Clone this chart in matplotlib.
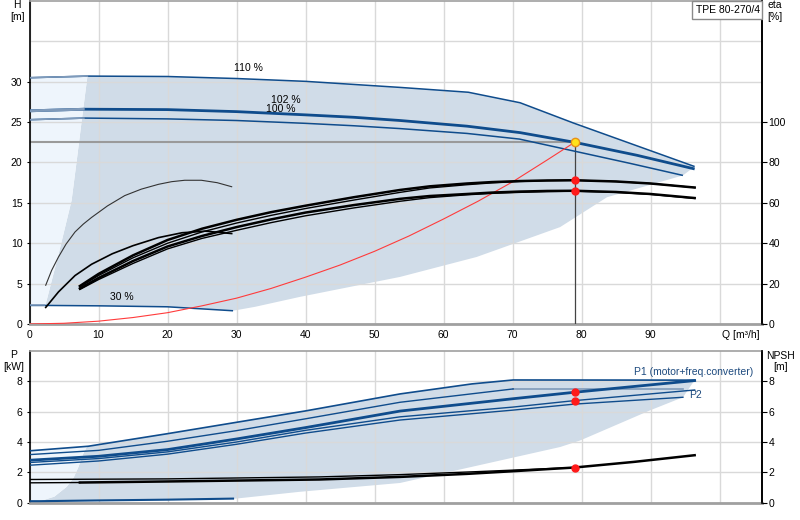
import matplotlib
matplotlib.use('Agg')
import matplotlib.pyplot as plt
from matplotlib.transforms import blended_transform_factory
from matplotlib.patches import Rectangle
import numpy as np

plt.rcParams['font.family'] = ['Liberation Sans', 'DejaVu Sans']
FS = 7.5

# ---------------- data ----------------
# Head curves [m] vs flow Q [m3/h]
q_110 = [0, 8.5, 20, 30, 40, 53.7, 63.6, 71.1, 78.8, 96.4]
h_110 = [30.5, 30.7, 30.65, 30.4, 30.05, 29.3, 28.7, 27.4, 24.9, 19.5]
q_102 = [0, 8, 20, 30, 40, 47, 53.7, 63.4, 71.1, 79, 88, 96.4]
h_102 = [26.4, 26.6, 26.55, 26.3, 25.9, 25.6, 25.2, 24.5, 23.7, 22.5, 20.9, 19.2]
q_100 = [0, 8, 20, 30, 40, 47, 53.7, 63.4, 71, 79, 87, 94.7]
h_100 = [25.3, 25.5, 25.4, 25.2, 24.85, 24.55, 24.2, 23.6, 22.9, 21.4, 19.9, 18.4]
q_30 = [0, 2.3, 10, 20, 29.5]
h_30 = [2.3, 2.3, 2.25, 2.13, 1.64]

# operating region (head) boundary
region_q = [8.4, 20, 30, 40, 53.7, 63.6, 71.1, 78.8, 96.4, 94.7, 83.7, 76.9, 64.8,
            53.7, 39.2, 32.7, 29.5, 20, 10, 2.3, 4.2, 6.1, 6.84, 7.6]
region_h = [30.7, 30.65, 30.4, 30.05, 29.3, 28.7, 27.4, 24.9, 19.5, 18.4, 15.7, 12.0, 8.3,
            5.83, 3.36, 2.13, 1.64, 2.13, 2.25, 2.3, 8.6, 15.3, 20.2, 25.4]
light_q = [0, 2.3, 4.2, 6.1, 6.84, 7.6, 8.4, 0]
light_h = [2.3, 2.3, 8.6, 15.3, 20.2, 25.4, 30.7, 30.5]

# system curve
sys_q = [0, 5, 10, 15, 20, 25, 30, 35, 40, 45, 50, 55, 60, 65, 70, 75, 79]
sys_h = [0, 0.09, 0.35, 0.8, 1.4, 2.25, 3.2, 4.4, 5.8, 7.3, 9.0, 10.9, 13.0, 15.2, 17.6, 20.3, 22.5]

duty_q = 79
duty_h = 22.5

# efficiency curves [%]
q_eta30_pump = [2.35, 3.2, 4.2, 5.3, 6.6, 7.8, 9.0, 11.3, 13.8, 16.2, 18.7, 20.6, 22.5, 24.9, 27.2, 29.3]
eta30_pump = [19.2, 26.5, 33.2, 39.6, 45.6, 49.5, 52.8, 58.5, 63.6, 66.8, 69.2, 70.5, 71.2, 71.2, 70.0, 68.0]
q_eta30_tot = [2.35, 4.2, 6.6, 9.0, 12, 15, 18.7, 22.1, 25.5, 29.3]
eta30_tot = [8.2, 15.9, 24.0, 29.6, 34.8, 38.8, 42.8, 45.2, 46.0, 44.8]

q_eta = [7.3, 10, 15, 20, 25, 30, 35, 40, 47, 53.7, 58, 63.4, 67, 71, 75, 79, 85, 90, 96.4]
eta_u1 = [18.8, 24.8, 34.0, 41.6, 47.2, 51.6, 55.4, 58.6, 62.8, 66.4, 68.2, 69.6, 70.3, 70.8, 71.1, 71.2, 70.6, 69.6, 67.6]
eta_u2 = [18.4, 24.0, 32.8, 40.0, 45.6, 50.0, 53.8, 57.2, 61.4, 65.2, 67.4, 69.0, 69.9, 70.6, 71.0, 71.2, 70.6, 69.6, 67.6]
eta_l1 = [17.6, 22.8, 31.2, 38.4, 43.6, 48.0, 51.8, 55.2, 58.9, 62.0, 63.4, 64.4, 65.1, 65.6, 65.9, 66.0, 65.4, 64.4, 62.4]
eta_l2 = [17.1, 22.0, 30.0, 37.2, 42.4, 46.4, 50.2, 53.6, 57.5, 60.8, 62.6, 64.0, 64.7, 65.2, 65.6, 65.8, 65.2, 64.2, 62.2]
eta_duty = [71.4, 66.0]

# power curves [kW]
qp_110_p1 = [0, 8.5, 20, 30, 40, 53.7, 64.1, 70.1, 96.4]
p_110_p1 = [3.42, 3.72, 4.55, 5.3, 6.05, 7.17, 7.83, 8.09, 8.08]
qp_110_p2 = [0, 10, 20, 30, 40, 53.7, 70.1]
p_110_p2 = [3.17, 3.45, 4.05, 4.75, 5.53, 6.62, 7.5]
qp_110_p2_cap = [70.1, 94.7]
p_110_p2_cap = [7.5, 7.5]
qp_102_p1 = [0, 10, 20, 30, 40, 53.7, 70, 79, 96.4]
p_102_p1 = [2.8, 3.06, 3.5, 4.2, 4.95, 6.04, 6.85, 7.28, 8.05]
qp_102_p2 = [0, 10, 20, 30, 40, 53.7, 70, 79, 96.4]
p_102_p2 = [2.65, 2.91, 3.35, 4.0, 4.77, 5.66, 6.3, 6.73, 7.43]
qp_100_p2 = [0, 10, 20, 30, 40, 53.7, 70, 79, 94.7]
p_100_p2 = [2.47, 2.75, 3.2, 3.85, 4.59, 5.45, 6.1, 6.5, 6.95]
qp_30 = [0, 1.5, 10, 20, 29.5]
p_30 = [0.1, 0.1, 0.15, 0.2, 0.27]
p_duty = [7.28, 6.73]

# power region boundary
pregion_q = [8.3, 20, 30, 40, 53.7, 64.1, 70.1, 96.4, 94.7, 89.9, 79.8, 76.9, 53.7, 39.2,
             29.5, 20, 10, 1.5, 3.6, 5.4, 6.4, 7.1, 7.8]
pregion_p = [3.67, 4.55, 5.3, 6.05, 7.17, 7.83, 8.09, 8.08, 6.95, 6.08, 4.1, 3.67, 1.3, 0.72,
             0.25, 0.2, 0.15, 0.1, 0.4, 1.05, 1.65, 2.36, 3.24]
plight_q = [0, 1.5, 3.6, 5.4, 6.4, 7.1, 7.8, 8.3, 0]
plight_p = [0.1, 0.1, 0.4, 1.05, 1.65, 2.36, 3.24, 3.67, 3.42]

# NPSH [m]
qn_thick = [7.3, 20, 42, 53.7, 63.4, 71, 79, 87.6, 96.4]
npsh_thick = [1.33, 1.4, 1.53, 1.7, 1.9, 2.1, 2.32, 2.69, 3.13]
qn_thin_a = [0, 7.3]
npsh_thin_a = [1.31, 1.33]
qn_thin_b = [0, 20, 42, 53.7, 65, 79]
npsh_thin_b = [1.53, 1.57, 1.7, 1.85, 2.05, 2.32]
npsh_duty = 2.32

x_ticks = [0, 10, 20, 30, 40, 50, 60, 70, 80, 90, 100]
x_labels = ['0', '10', '20', '30', '40', '50', '60', '70', '80', '90', '']
h_ticks = [0, 5, 10, 15, 20, 25, 30]
eta_ticks = [0, 20, 40, 60, 80, 100]
p_ticks = [0, 2, 4, 6, 8]

# ---------------- style ----------------
SHADE = '#d0dce8'
LIGHT = '#eef5fc'
BLUE = '#0f4c8c'
BLUE_L = '#7f9aba'
GRID = '#d9d9d9'
GRAYSP = '#a0a0a0'

fig = plt.figure(figsize=(8, 5.2), dpi=100)
fig.patch.set_facecolor('white')

W, H = 800.0, 520.0
xl, xr = 29.5, 762.0
ax1 = fig.add_axes([xl / W, 1 - 324 / H, (xr - xl) / W, 323 / H])
ax2 = fig.add_axes([xl / W, 1 - 502.7 / H, (xr - xl) / W, (502.7 - 351) / H])
xmax = (xr - xl) / 6.9


def style_axes(ax):
    ax.set_xlim(0, xmax)
    ax.spines['left'].set_color('black')
    ax.spines['left'].set_linewidth(1.2)
    ax.spines['right'].set_color('black')
    ax.spines['right'].set_linewidth(1.2)
    ax.spines['top'].set_color(GRAYSP)
    ax.spines['top'].set_linewidth(1.2)
    ax.spines['bottom'].set_color(GRAYSP)
    ax.spines['bottom'].set_linewidth(2.0)
    ax.grid(True, color=GRID, lw=1.0)
    ax.tick_params(axis='y', direction='out', length=2.5, pad=2.5, labelsize=FS, width=0.8)
    ax.tick_params(axis='x', length=0, labelsize=FS, pad=4.2)


# ---------- top: head ----------
style_axes(ax1)
ax1.set_ylim(0, 40)
ax1.set_yticks(h_ticks)
ax1.set_xticks(x_ticks)
ax1.set_xticklabels(x_labels)
ax1.axhline(35, color=GRID, lw=1.0, zorder=1.5)

ax1.fill(region_q, region_h, color=SHADE, lw=0, zorder=1)
ax1.fill(light_q, light_h, color=LIGHT, lw=0, zorder=1)

for q, h, lw in [(q_110, h_110, 1.1), (q_102, h_102, 2.0), (q_100, h_100, 1.1), (q_30, h_30, 1.1)]:
    ax1.plot(q, h, color=BLUE, lw=lw, zorder=3, solid_capstyle='butt')
    ax1.plot(q[:2], h[:2], color=BLUE_L, lw=lw, zorder=3.1, solid_capstyle='butt')

ax1.plot(sys_q, sys_h, color='#ff3b3b', lw=0.8, zorder=3)
ax1.plot([0, duty_q], [duty_h, duty_h], color='#9a9a9a', lw=1.5, zorder=2.5)
ax1.plot([duty_q, duty_q], [0, duty_h], color='#444444', lw=0.9, zorder=2.6)
ax1.plot([duty_q], [duty_h], 'o', ms=6, mfc='#ffe21a', mec='#e8901a', mew=1.0, zorder=6)

ax1.text(31.7, 31.7, '110 %', fontsize=FS, ha='center', va='center')
ax1.text(37.2, 27.7, '102 %', fontsize=FS, ha='center', va='center')
ax1.text(36.4, 26.6, '100 %', fontsize=FS, ha='center', va='center')
ax1.text(13.4, 3.36, '30 %', fontsize=FS, ha='center', va='center')

tr = blended_transform_factory(ax1.transData, ax1.transAxes)
ax1.text(100.3, -0.033, 'Q [m³/h]', fontsize=FS, ha='left', va='center', transform=tr)

ax1r = ax1.twinx()
ax1r.set_ylim(0, 160)
ax1r.set_yticks(eta_ticks)
for s in ['left', 'top', 'bottom']:
    ax1r.spines[s].set_visible(False)
ax1r.spines['right'].set_color('black')
ax1r.spines['right'].set_linewidth(1.2)
ax1r.tick_params(axis='y', direction='out', length=3.4, pad=1.2, labelsize=FS, width=0.8)

ax1r.plot(q_eta30_pump, eta30_pump, color='#333333', lw=0.8, zorder=3)
ax1r.plot(q_eta30_tot, eta30_tot, color='black', lw=1.2, zorder=3)
ax1r.plot(q_eta, eta_u1, color='black', lw=1.8, zorder=3)
ax1r.plot(q_eta, eta_u2, color='black', lw=1.0, zorder=3)
ax1r.plot(q_eta, eta_l1, color='black', lw=1.8, zorder=3)
ax1r.plot(q_eta, eta_l2, color='black', lw=1.0, zorder=3)
ax1r.plot([duty_q] * len(eta_duty), eta_duty, 'o', ms=5, color='#ff1a1a', zorder=6)

# ---------- bottom: power / NPSH ----------
style_axes(ax2)
ax2.set_ylim(0, 10)
ax2.set_yticks(p_ticks)
ax2.set_xticks(x_ticks)
ax2.set_xticklabels([''] * len(x_ticks))

ax2.fill(pregion_q, pregion_p, color=SHADE, lw=0, zorder=1)
ax2.fill(plight_q, plight_p, color=LIGHT, lw=0, zorder=1)

ax2.plot(qp_110_p1, p_110_p1, color=BLUE, lw=1.2, zorder=3)
ax2.plot(qp_110_p2, p_110_p2, color=BLUE, lw=1.0, zorder=3)
ax2.plot(qp_110_p2_cap, p_110_p2_cap, color=BLUE_L, lw=1.2, zorder=2.9)
ax2.plot(qp_102_p1, p_102_p1, color=BLUE, lw=2.0, zorder=3)
ax2.plot(qp_102_p2, p_102_p2, color=BLUE, lw=1.0, zorder=3)
ax2.plot(qp_100_p2, p_100_p2, color=BLUE, lw=1.0, zorder=3)
ax2.plot(qp_30, p_30, color=BLUE, lw=1.5, zorder=3)
ax2.plot([duty_q] * len(p_duty), p_duty, 'o', ms=5, color='#ff1a1a', zorder=6)

ax2.text(104.9, 8.64, 'P1 (motor+freq.converter)', fontsize=FS, ha='right', va='center', color='#1d4a7e')
ax2.text(95.6, 7.11, 'P2', fontsize=FS, ha='left', va='center', color='#1d4a7e')

ax2r = ax2.twinx()
ax2r.set_ylim(0, 10)
ax2r.set_yticks(p_ticks)
for s in ['left', 'top', 'bottom']:
    ax2r.spines[s].set_visible(False)
ax2r.spines['right'].set_color('black')
ax2r.spines['right'].set_linewidth(1.2)
ax2r.tick_params(axis='y', direction='out', length=3.4, pad=1.2, labelsize=FS, width=0.8)

ax2r.plot(qn_thick, npsh_thick, color='black', lw=1.8, zorder=3)
ax2r.plot(qn_thin_a, npsh_thin_a, color='black', lw=1.0, zorder=3)
ax2r.plot(qn_thin_b, npsh_thin_b, color='black', lw=1.0, zorder=3)
ax2r.plot([duty_q], [npsh_duty], 'o', ms=5, color='#ff1a1a', zorder=6)

# ---------- axis titles ----------
def ftext(x, y, s, **kw):
    fig.text(x / W, 1 - y / H, s, fontsize=FS, ha='center', va='center', **kw)

ftext(16.5, 5, 'H')
ftext(17.3, 17, '[m]')
ftext(774.7, 5, 'eta')
ftext(774.7, 16.7, '[%]')
ftext(13.5, 355.5, 'P')
ftext(14.2, 367.5, '[kW]')
ftext(780.5, 356, 'NPSH')
ftext(780.3, 367, '[m]')

# model box
fig.patches.append(Rectangle((691.7 / W, 1 - 19 / H), 70 / W, 18.5 / H, transform=fig.transFigure,
                             facecolor='white', edgecolor='#8a8a8a', lw=1.0, zorder=10))
fig.text(727.5 / W, 1 - 10 / H, 'TPE 80-270/4', fontsize=FS, ha='center', va='center', zorder=11)

fig.savefig('out.png', dpi=100, facecolor='white')
